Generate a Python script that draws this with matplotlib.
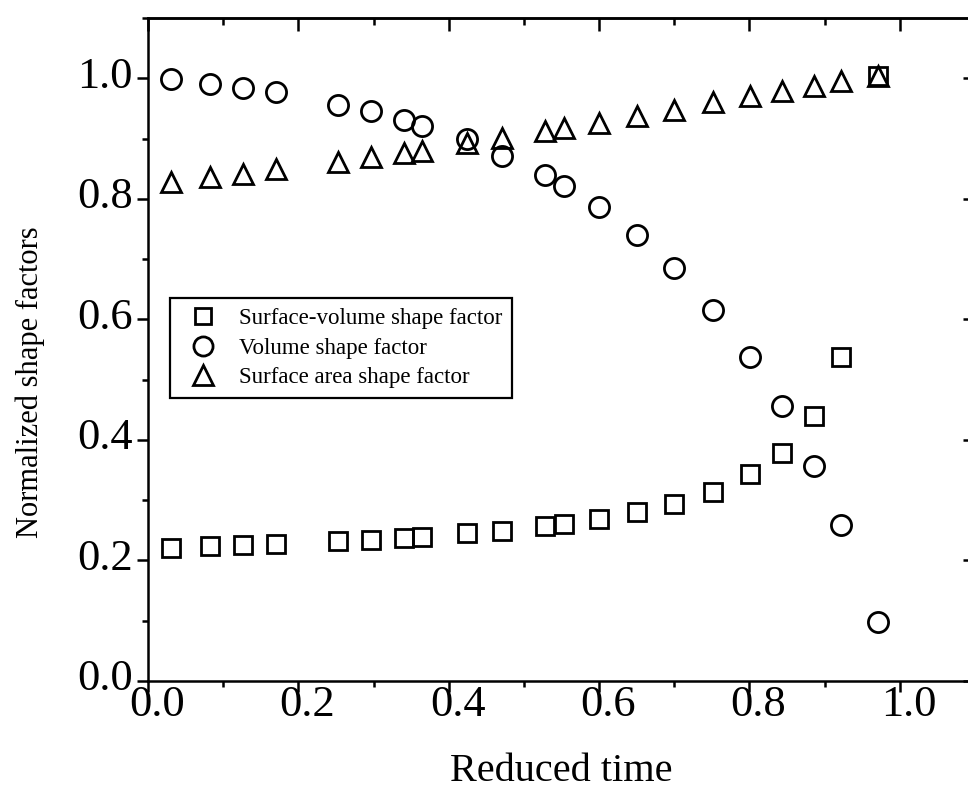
import matplotlib
matplotlib.use("Agg")
import matplotlib.pyplot as plt
from matplotlib.ticker import MultipleLocator
from matplotlib.transforms import ScaledTranslation

plt.rcParams['font.family'] = ['Liberation Serif', 'DejaVu Serif']

# Data
reduced_time = [0.031, 0.082, 0.127, 0.170, 0.253, 0.296, 0.340, 0.364, 0.424, 0.471,
                0.528, 0.553, 0.600, 0.650, 0.699, 0.752, 0.801, 0.843, 0.886, 0.922, 0.971]
surface_volume = [0.221, 0.224, 0.226, 0.228, 0.232, 0.234, 0.237, 0.239, 0.245, 0.249,
                  0.257, 0.260, 0.268, 0.280, 0.294, 0.314, 0.343, 0.379, 0.439, 0.538, 1.003]
volume = [0.999, 0.991, 0.984, 0.977, 0.956, 0.945, 0.930, 0.921, 0.899, 0.871,
          0.839, 0.822, 0.786, 0.740, 0.685, 0.615, 0.537, 0.456, 0.357, 0.258, 0.098]
surface_area = [0.828, 0.837, 0.842, 0.849, 0.861, 0.869, 0.876, 0.879, 0.893, 0.901,
                 0.912, 0.917, 0.925, 0.937, 0.948, 0.960, 0.971, 0.979, 0.987, 0.995, 1.003]

labels = ["Surface-volume shape factor", "Volume shape factor", "Surface area shape factor"]
x_ticks = [0.0, 0.2, 0.4, 0.6, 0.8, 1.0]
y_ticks = [0.0, 0.2, 0.4, 0.6, 0.8, 1.0]

W, H = 968, 796
fig = plt.figure(figsize=(W / 100, H / 100), dpi=100)
ax = fig.add_axes([148 / W, 115 / H, 827 / W, 663 / H])

mk = dict(ls='none', mfc='none', mec='black', mew=2.0)
ax.plot(reduced_time, surface_volume, marker='s', ms=12.5, label=labels[0], **mk)
ax.plot(reduced_time, volume, marker='o', ms=14.5, label=labels[1], **mk)
ax.plot(reduced_time, surface_area, marker='^', ms=15, label=labels[2], **mk)

ax.set_xlim(0, 1.1)
ax.set_ylim(0, 1.1)
ax.set_xticks(x_ticks)
ax.set_yticks(y_ticks)
ax.set_xticklabels([f"{v:.1f}" for v in x_ticks])
ax.set_yticklabels([f"{v:.1f}" for v in y_ticks])
ax.xaxis.set_minor_locator(MultipleLocator(0.1))
ax.yaxis.set_minor_locator(MultipleLocator(0.1))

for s in ax.spines.values():
    s.set_linewidth(1.8)

ax.tick_params(axis='both', which='major', direction='out', length=8, width=1.8, labelsize=32)
ax.tick_params(axis='both', which='minor', direction='out', length=4, width=1.8)
ax.tick_params(axis='x', which='major', pad=-5)
ax.tick_params(axis='y', which='major', pad=3)

# inward ticks on top and right
sx = ax.secondary_xaxis('top')
sx.set_xticks(x_ticks)
sx.xaxis.set_minor_locator(MultipleLocator(0.1))
sx.tick_params(axis='x', which='major', direction='in', length=9, width=1.8, labeltop=False)
sx.tick_params(axis='x', which='minor', direction='in', length=5, width=1.8)
sx.spines['top'].set_linewidth(1.8)

sy = ax.secondary_yaxis('right')
sy.set_yticks(y_ticks)
sy.yaxis.set_minor_locator(MultipleLocator(0.1))
sy.tick_params(axis='y', which='major', direction='in', length=9, width=1.8, labelright=False)
sy.tick_params(axis='y', which='minor', direction='in', length=5, width=1.8)

# small offsets of tick labels like the reference
for lab in ax.get_yticklabels():
    lab.set_transform(lab.get_transform() + ScaledTranslation(0, 0.06, fig.dpi_scale_trans))
for lab in ax.get_xticklabels():
    lab.set_transform(lab.get_transform() + ScaledTranslation(0.09, 0, fig.dpi_scale_trans))

ax.set_xlabel("Reduced time", fontsize=29)
ax.xaxis.set_label_coords(0.5, -0.108)
ax.set_ylabel("Normalized shape factors", fontsize=22)
ax.yaxis.set_label_coords(-0.1245, 0.451)

leg = ax.legend(loc='upper left', bbox_to_anchor=((170 - 148) / 827, (681 - 298) / 663),
                borderaxespad=0, fontsize=16.5, frameon=True, fancybox=False,
                handlelength=2.0, handletextpad=0.55, borderpad=0.45, labelspacing=0.36,
                markerscale=0.95)
leg.get_frame().set_edgecolor('black')
leg.get_frame().set_linewidth(1.6)
leg.get_frame().set_alpha(1)

fig.savefig("out.png", dpi=100)
